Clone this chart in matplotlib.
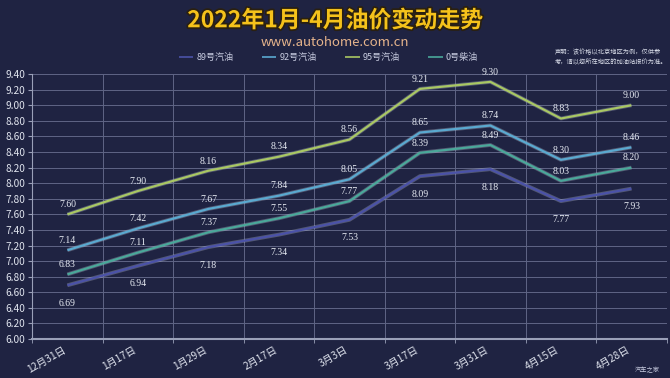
import matplotlib.pyplot as plt
import matplotlib.patheffects as pe
import numpy as np

plt.rcParams['font.family'] = ['Noto Sans CJK SC', 'DejaVu Sans']

dates = ['12月31日', '1月17日', '1月29日', '2月17日', '3月3日',
         '3月17日', '3月31日', '4月15日', '4月28日']
oil_89 = [6.69, 6.94, 7.18, 7.34, 7.53, 8.09, 8.18, 7.77, 7.93]
oil_92 = [7.14, 7.42, 7.67, 7.84, 8.05, 8.65, 8.74, 8.30, 8.46]
oil_95 = [7.60, 7.90, 8.16, 8.34, 8.56, 9.21, 9.30, 8.83, 9.00]
diesel_0 = [6.83, 7.11, 7.37, 7.55, 7.77, 8.39, 8.49, 8.03, 8.20]
yticks = np.arange(6.0, 9.41, 0.2)

bg = '#1f2342'
fig = plt.figure(figsize=(6.7, 3.78), dpi=100, facecolor=bg)
ax = fig.add_axes([0.048, 0.103, 0.947, 0.701], facecolor=bg)

x = np.arange(len(dates))
series = [
    ('89号汽油', oil_89, '#4b52a8', 'below'),
    ('92号汽油', oil_92, '#5aa9d0', 'above'),
    ('95号汽油', oil_95, '#a9c763', 'above'),
    ('0号柴油', diesel_0, '#4aa89a', 'above'),
]
for name, vals, col, pos in series:
    ax.plot(x, vals, color=col, lw=1.6, label=name, solid_capstyle='butt',
            path_effects=[pe.Stroke(linewidth=2.8, foreground='#c8d0e0', alpha=0.3), pe.Normal()])
    for xi, v in zip(x, vals):
        dy = -13 if pos == 'below' else 7
        ax.annotate(f'{v:.2f}', (xi, v), xytext=(0, dy), textcoords='offset points',
                    ha='center', va='center', fontsize=7, color='#e8ecf4',
                    family=['Liberation Serif', 'DejaVu Serif'])

ax.set_xlim(-0.5, len(dates) - 0.5)
ax.set_ylim(6.0, 9.4)
ax.set_yticks(yticks)
ax.set_yticklabels([f'{t:.2f}' for t in yticks], fontsize=7.3, color='#e0e4ee')
ax.set_xticks(x)
ax.set_xticklabels(dates, rotation=30, ha='right', fontsize=7.3, color='#e0e4ee')
ax.set_xticks(np.arange(-0.5, len(dates) - 0.4, 1), minor=True)
ax.tick_params(axis='x', which='major', length=0, pad=4)
ax.tick_params(axis='x', which='minor', length=3, color='#9aa0b8')
ax.tick_params(axis='y', length=3, color='#9aa0b8', pad=2)
ax.grid(axis='y', color='#5f6586', lw=0.7)
ax.grid(axis='x', which='minor', color='#5f6586', lw=0.7)
for s in ['top', 'right']:
    ax.spines[s].set_visible(False)
ax.spines['left'].set_color('#9aa0b8')
ax.spines['bottom'].set_color('#9aa0b8')
ax.spines['bottom'].set_linewidth(1.5)

fig.text(0.5, 0.945, '2022年1月-4月油价变动走势', ha='center', va='center',
         fontsize=16.5, fontweight='bold', color='#f5c21b',
         path_effects=[pe.withStroke(linewidth=2.5, foreground='#2a2010')])
fig.text(0.5, 0.888, 'www.autohome.com.cn', ha='center', va='center',
         fontsize=9.5, color='#e6b48c')
leg = fig.legend(loc='center', bbox_to_anchor=(0.49, 0.848), ncol=4, frameon=False,
                 fontsize=6.5, labelcolor='#c8cce0', handlelength=1.6, columnspacing=3.2,
                 handletextpad=0.3)
for h in leg.legend_handles:
    h.set_linewidth(1.2)
    h.set_path_effects([])
fig.text(0.828, 0.848, '声明：该价格以北京地区为例，仅供参\n考，请以您所在地区的加油站报价为准。',
         ha='left', va='center', fontsize=4.5, color='#d8dce8', linespacing=1.3)
fig.text(0.985, 0.02, '汽车之家', ha='right', va='center', fontsize=4.5, color='#c8cce0')

plt.savefig('out.png', dpi=100, facecolor=bg)
